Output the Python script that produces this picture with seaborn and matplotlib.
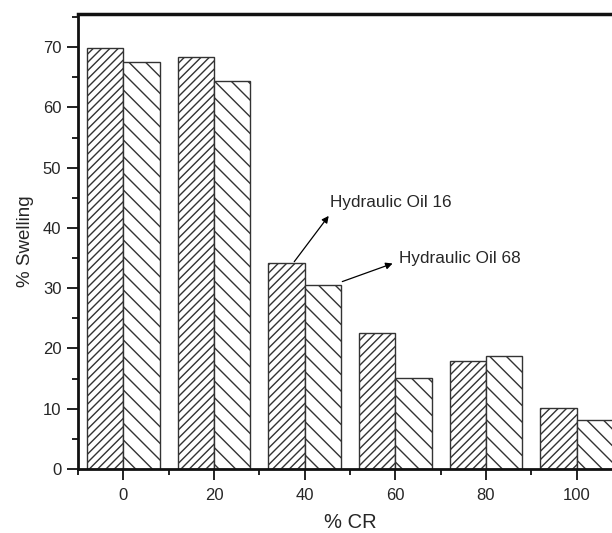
import matplotlib
matplotlib.use("Agg")
import matplotlib.pyplot as plt
import seaborn as sns
import pandas as pd
from matplotlib.ticker import MultipleLocator, FixedLocator

cr = [0, 20, 40, 60, 80, 100]
oil16 = [69.8, 68.3, 34.1, 22.6, 17.9, 10.2]
oil68 = [67.6, 64.3, 30.6, 15.1, 18.7, 8.2]
series = ["Hydraulic Oil 16", "Hydraulic Oil 68"]

df = pd.DataFrame({
    "CR": cr * 2,
    "Swelling": oil16 + oil68,
    "Oil": [series[0]] * len(cr) + [series[1]] * len(cr),
})

sns.set_style("ticks")
plt.rcParams["font.family"] = ["Liberation Sans", "DejaVu Sans"]
plt.rcParams["hatch.linewidth"] = 1.0
plt.rcParams["hatch.color"] = "#222222"

fig = plt.figure(figsize=(6.12, 5.33), dpi=100)
ax = fig.add_axes([78 / 612, 1 - 469 / 533, 544 / 612, 455 / 533])

sns.barplot(data=df, x="CR", y="Swelling", hue="Oil", native_scale=True,
            palette=["white", "white"], width=0.8, gap=0, dodge=True,
            edgecolor="#333333", linewidth=1.0, legend=False, ax=ax, errorbar=None)

hatches = {0: "////", 1: "\\\\"}
n = len(cr)
for i, p in enumerate(ax.patches[:2 * n]):
    p.set_hatch(hatches[i // n])

ax.set_xlim(-10, 110)
ax.set_ylim(0, 75.5)
ax.set_xticks(cr)
ax.set_xticklabels([str(c) for c in cr])
ax.xaxis.set_minor_locator(FixedLocator([-10, 10, 30, 50, 70, 90]))
ax.set_yticks(range(0, 71, 10))
ax.yaxis.set_minor_locator(MultipleLocator(5))

for s in ["left", "bottom", "top", "right"]:
    ax.spines[s].set_visible(True)
    ax.spines[s].set_linewidth(2.0)
    ax.spines[s].set_color("#111111")
ax.spines["top"].set_linewidth(2.5)

ax.tick_params(which="major", direction="out", length=8, width=1.3, labelsize=12,
               pad=4, color="#111111", top=False, right=False)
ax.tick_params(which="minor", direction="out", length=4.5, width=1.3,
               color="#111111", top=False, right=False)
ax.tick_params(axis="x", which="major", pad=6)

ax.set_xlabel("% CR", fontsize=14.5, labelpad=7)
ax.set_ylabel("% Swelling", fontsize=13.5, labelpad=6)

arrow = dict(arrowstyle="-|>", color="black", lw=0.9, mutation_scale=10,
             shrinkA=0, shrinkB=0)
ax.annotate("", xy=(45.3, 42.0), xytext=(37.7, 34.4), arrowprops=arrow)
ax.text(45.5, 44.2, series[0], fontsize=12.3, va="center", ha="left")
ax.annotate("", xy=(59.4, 34.1), xytext=(48.3, 31.1), arrowprops=arrow)
ax.text(60.7, 35.0, series[1], fontsize=12.3, va="center", ha="left")

fig.savefig("out.png", dpi=100)
